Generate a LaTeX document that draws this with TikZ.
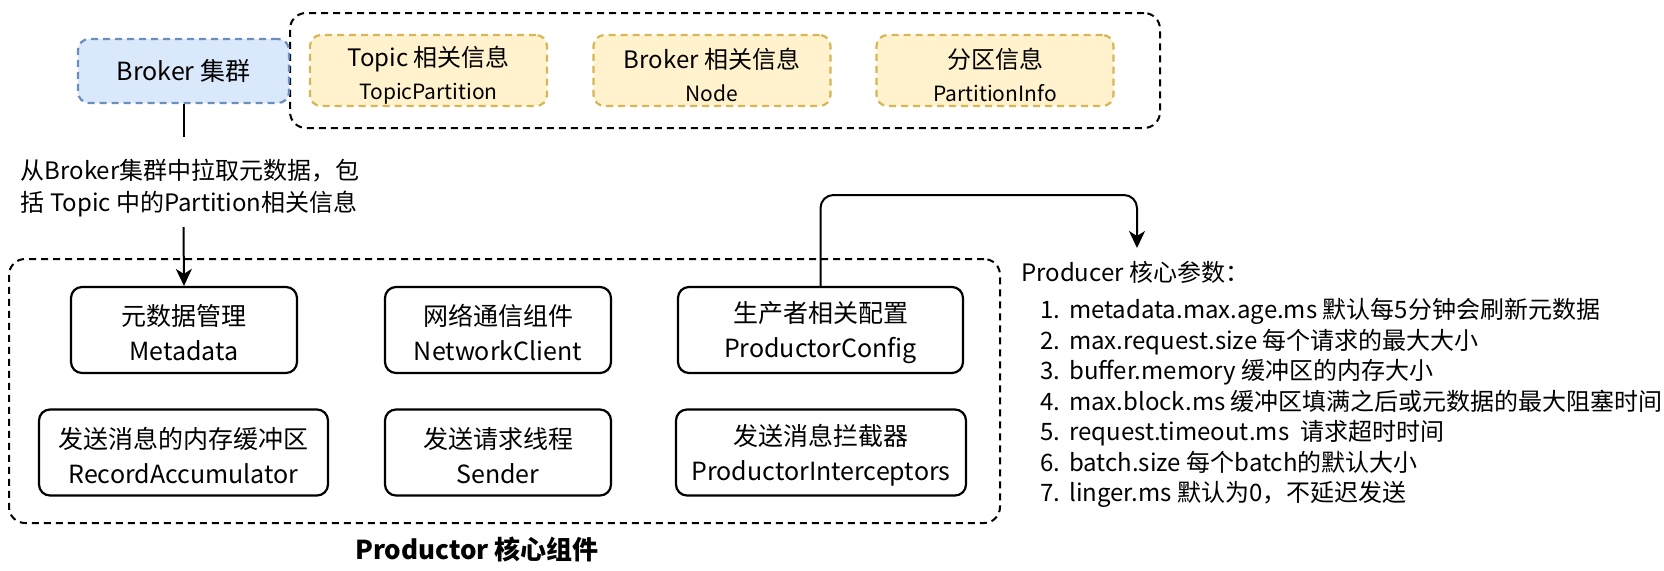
\documentclass[tikz,border=0pt]{standalone}
\usepackage{fontspec}
\setmainfont{Noto Sans CJK SC}
\usetikzlibrary{arrows.meta}
\definecolor{bluefill}{HTML}{DAE8FC}
\definecolor{bluedraw}{HTML}{6C8EBF}
\definecolor{yelfill}{HTML}{FFF2CC}
\definecolor{yeldraw}{HTML}{D6B656}
\newcommand{\upstrut}[1]{\rule{0pt}{#1}}
\begin{document}
\begin{tikzpicture}[x=1pt,y=-1pt,
  comp/.style={draw=black, line width=2.2pt, rounded corners=11pt, align=center, inner sep=0pt,
    minimum height=86pt, font=\fontsize{25}{35}\selectfont},
  infobox/.style={draw=yeldraw, fill=yelfill, line width=2.2pt, dash pattern=on 7pt off 5pt,
    rounded corners=11pt, align=center, inner sep=0pt, minimum width=237pt, minimum height=71pt,
    font=\fontsize{24}{33}\selectfont},
  brokerbox/.style={draw=bluedraw, fill=bluefill, line width=2.2pt, dash pattern=on 7pt off 5pt,
    rounded corners=11pt, align=center, inner sep=0pt, font=\fontsize{25}{30}\selectfont},
  contbox/.style={draw=black, line width=2pt, dash pattern=on 7pt off 5pt, rounded corners=16pt, inner sep=0pt},
  conn/.style={draw=black, line width=2pt},
  tip/.style={-{Stealth[length=17pt,width=16pt,inset=5pt]}}
]
\useasboundingbox (0,0) rectangle (1664,570);

% containers
\node[contbox, minimum width=870pt, minimum height=115pt] (topcont) at (725,70.5) {};
\node[contbox, minimum width=991pt, minimum height=264pt] (prodcont) at (504.5,391) {};

% broker
\node[brokerbox, minimum width=211pt, minimum height=64pt] (broker) at (183.5,71) {Broker 集群};

% info boxes
\node[infobox] (tinfo) at (428.5,70.5) {\upstrut{30pt}Topic 相关信息\\{\fontsize{21}{21}\selectfont TopicPartition}};
\node[infobox] (binfo) at (712,70.5) {\upstrut{30pt}Broker 相关信息\\{\fontsize{21}{21}\selectfont Node}};
\node[infobox] (pinfo) at (995,70.5) {\upstrut{30pt}分区信息\\{\fontsize{21}{21}\selectfont PartitionInfo}};

% component boxes
\node[comp, minimum width=226pt] (meta) at (184,330) {\upstrut{27pt}元数据管理\\Metadata};
\node[comp, minimum width=226pt] (net) at (498,330) {\upstrut{27pt}网络通信组件\\NetworkClient};
\node[comp, minimum width=285pt] (cfg) at (820.5,330) {\upstrut{27pt}生产者相关配置\\ProductorConfig};
\node[comp, minimum width=289pt] (acc) at (183.5,452.5) {\upstrut{27pt}发送消息的内存缓冲区\\RecordAccumulator};
\node[comp, minimum width=226pt] (send) at (498,452.5) {\upstrut{27pt}发送请求线程\\Sender};
\node[comp, minimum width=290pt] (inter) at (821,452.5) {\upstrut{27pt}发送消息拦截器\\ProductorInterceptors};

\node[font=\bfseries\fontsize{26}{26}\selectfont, anchor=west, inner sep=0pt] (ptitle) at (355,549) {Productor 核心组件};

% edge label
\node[align=left, fill=white, inner xsep=0pt, inner ysep=0pt, minimum height=90pt,
  font=\fontsize{24}{32}\selectfont] (lbl) at (190,182) {\upstrut{32pt}从Broker集群中拉取元数据，包\\括 Topic 中的Partition相关信息};

\draw[conn] (broker.south) -- (broker.south |- lbl.north);
\draw[conn, tip] (broker.south |- lbl.south) -- (meta.north);

% parameters
\node[anchor=west, inner sep=0pt, font=\fontsize{24}{24}\selectfont] (partitle) at (1021,272) {Producer 核心参数：};
\coordinate (ptip) at (1137,248);
\coordinate (bend) at (1137,195);
\draw[conn, tip, rounded corners=13pt] (cfg.north) |- (bend) -- (ptip);

\node[anchor=north west, inner sep=0pt, font=\fontsize{24}{30.5}\selectfont] (plist) at (1040,297) {%
\begin{tabular}{@{}r@{\hspace{9pt}}l@{}}
1. & metadata.max.age.ms 默认每5分钟会刷新元数据\\
2. & max.request.size 每个请求的最大大小\\
3. & buffer.memory 缓冲区的内存大小\\
4. & max.block.ms 缓冲区填满之后或元数据的最大阻塞时间\\
5. & request.timeout.ms\ \ 请求超时时间\\
6. & batch.size 每个batch的默认大小\\
7. & linger.ms 默认为0，不延迟发送
\end{tabular}};
\end{tikzpicture}
\end{document}
